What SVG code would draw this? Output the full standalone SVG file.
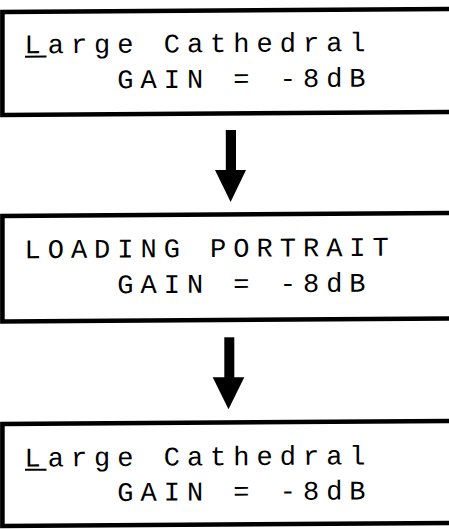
<svg xmlns="http://www.w3.org/2000/svg" width="449" height="529" viewBox="0 0 449 529">
  <style>
    .panel { fill: #fff; stroke: #000; stroke-width: 4.6; }
    .lcd { font-family: "Liberation Mono", "Courier New", monospace; font-size: 27px; letter-spacing: 7px; fill: #000; white-space: pre; }
    .cursor { fill: #000; }
    .arrow { fill: #000; }
  </style>
  <rect width="449" height="529" fill="#fff"/>
  <g transform="skewY(-0.38)">
    <g id="display-1">
      <rect class="panel" x="2.4" y="12" width="520" height="103"/>
      <text class="lcd" x="24.5" y="53.5">Large Cathedral</text>
      <text class="lcd" x="24.5" y="89">    GAIN = -8dB</text>
      <rect class="cursor" x="25" y="55.8" width="21.5" height="2"/>
    </g>
    <g id="display-2">
      <rect class="panel" x="2.4" y="216" width="520" height="105.5"/>
      <text class="lcd" x="24.5" y="258.3">LOADING PORTRAIT</text>
      <text class="lcd" x="24.5" y="294">    GAIN = -8dB</text>
    </g>
    <g id="display-3">
      <rect class="panel" x="2.4" y="424" width="520" height="102"/>
      <text class="lcd" x="24.5" y="466.7">Large Cathedral</text>
      <text class="lcd" x="24.5" y="501.7">    GAIN = -8dB</text>
      <rect class="cursor" x="25" y="469" width="21.5" height="2"/>
    </g>
  </g>
  <g id="connectors">
    <g id="arrow-1-2">
      <rect class="arrow" x="225.8" y="130" width="10.2" height="41"/>
      <polygon class="arrow" points="215,170 246,170 230.6,202"/>
    </g>
    <g id="arrow-2-3">
      <rect class="arrow" x="224.3" y="337.3" width="10" height="41"/>
      <polygon class="arrow" points="212.7,377.3 244.3,377.3 228.5,409.3"/>
    </g>
  </g>
</svg>
